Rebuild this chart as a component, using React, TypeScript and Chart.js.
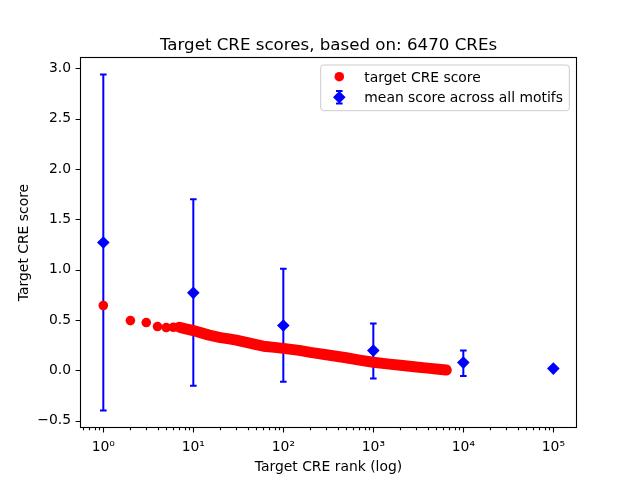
import { useEffect, useRef } from 'react';
import { Chart, registerables } from 'chart.js';

Chart.register(...registerables);

const TITLE = 'Target CRE scores, based on: 6470 CREs';
const X_LABEL = 'Target CRE rank (log)';
const Y_LABEL = 'Target CRE score';
const SCORE_LABEL = 'target CRE score';
const MEAN_LABEL = 'mean score across all motifs';

const ranks = [1, 2, 3, 4, 5, 6, 7, 8, 9, 10, 12, 15, 20, 25, 30, 40, 50, 60, 80, 100, 150, 200, 300, 500, 700, 1000, 1500, 2000, 3000, 4000, 5000, 6470];
const scores = [0.644, 0.494, 0.475, 0.435, 0.425, 0.428, 0.428, 0.415, 0.405, 0.395, 0.375, 0.35, 0.325, 0.312, 0.3, 0.275, 0.255, 0.24, 0.228, 0.218, 0.198, 0.178, 0.155, 0.125, 0.102, 0.08, 0.062, 0.05, 0.034, 0.022, 0.013, 0.004];

const meanRanks = [1, 10, 100, 1000, 10000, 100000];
const meanScores = [1.27, 0.77, 0.445, 0.196, 0.077, 0.017];
const errLow = [-0.4, -0.152, -0.113, -0.08, -0.057, 0.017];
const errHigh = [2.94, 1.7, 1.01, 0.465, 0.196, 0.017];

const xMajorTicks = [1, 10, 100, 1000, 10000, 100000];
const xMinorMultipliers = [2, 3, 4, 5, 6, 7, 8, 9];
const yTicks = [-0.5, 0, 0.5, 1, 1.5, 2, 2.5, 3];

const X_MIN = 0.565;
const X_MAX = 178600;
const Y_MIN = -0.563;
const Y_MAX = 3.103;

const RED = '#ff0000';
const BLUE = '#0000ff';
const FONT = 'DejaVu Sans';
const SUP: Record<string, string> = { '0': '⁰', '1': '¹', '2': '²', '3': '³', '4': '⁴', '5': '⁵', '6': '⁶', '7': '⁷', '8': '⁸', '9': '⁹' };

function supPow(v: number): string {
  const e = Math.round(Math.log10(v));
  return '10' + String(e).split('').map((c) => SUP[c] || c).join('');
}

function drawDiamond(ctx: CanvasRenderingContext2D, x: number, y: number, r: number) {
  ctx.beginPath();
  ctx.moveTo(x, y - r);
  ctx.lineTo(x + r, y);
  ctx.lineTo(x, y + r);
  ctx.lineTo(x - r, y);
  ctx.closePath();
  ctx.fill();
}

function drawErrorBar(ctx: CanvasRenderingContext2D, x: number, y1: number, y2: number, cap: number) {
  ctx.beginPath();
  ctx.moveTo(x, y1);
  ctx.lineTo(x, y2);
  ctx.moveTo(x - cap, y1);
  ctx.lineTo(x + cap, y1);
  ctx.moveTo(x - cap, y2);
  ctx.lineTo(x + cap, y2);
  ctx.stroke();
}

const decor = {
  id: 'decor',
  beforeDatasetsDraw(chart: any) {
    const ctx = chart.ctx as CanvasRenderingContext2D;
    const xs = chart.scales.x;
    const ys = chart.scales.y;
    ctx.save();
    ctx.strokeStyle = BLUE;
    ctx.lineWidth = 2;
    meanRanks.forEach((r, i) => {
      if (errHigh[i] - errLow[i] < 1e-6) return;
      const x = xs.getPixelForValue(r);
      drawErrorBar(ctx, x, ys.getPixelForValue(errHigh[i]), ys.getPixelForValue(errLow[i]), 3.3);
    });
    ctx.restore();
  },
  afterDraw(chart: any) {
    const ctx = chart.ctx as CanvasRenderingContext2D;
    const a = chart.chartArea;
    const xs = chart.scales.x;
    const ys = chart.scales.y;
    ctx.save();
    // frame
    ctx.strokeStyle = '#000';
    ctx.lineWidth = 1.1;
    ctx.strokeRect(a.left - 0.5, a.top - 0.5, a.right - a.left + 1, a.bottom - a.top + 1);
    // tick marks
    ctx.lineWidth = 1.1;
    ctx.beginPath();
    yTicks.forEach((v) => {
      const y = Math.round(ys.getPixelForValue(v)) + 0.5;
      ctx.moveTo(a.left - 0.5, y);
      ctx.lineTo(a.left - 5.4, y);
    });
    xMajorTicks.forEach((v) => {
      const x = Math.round(xs.getPixelForValue(v)) + 0.5;
      ctx.moveTo(x, a.bottom + 0.5);
      ctx.lineTo(x, a.bottom + 5.4);
    });
    const minors: number[] = [];
    [0.1, 1, 10, 100, 1000, 10000, 100000].forEach((d) => {
      xMinorMultipliers.forEach((m) => {
        const v = d * m;
        if (v >= X_MIN && v <= X_MAX) minors.push(v);
      });
    });
    minors.forEach((v) => {
      const x = Math.round(xs.getPixelForValue(v)) + 0.5;
      ctx.moveTo(x, a.bottom + 0.5);
      ctx.lineTo(x, a.bottom + 3.3);
    });
    ctx.stroke();

    // texts
    const cx = (a.left + a.right) / 2;
    ctx.fillStyle = '#000';
    ctx.textAlign = 'center';
    ctx.textBaseline = 'alphabetic';
    ctx.font = `16.67px "${FONT}"`;
    ctx.fillText(TITLE, cx, 50);
    ctx.font = `13.9px "${FONT}"`;
    ctx.fillText(X_LABEL, cx, 471);
    ctx.save();
    ctx.translate(28.4, (a.top + a.bottom) / 2);
    ctx.rotate(-Math.PI / 2);
    ctx.fillText(Y_LABEL, 0, 0);
    ctx.restore();

    // legend
    const lx = 320.7, ly = 65, lw = 248.6, lh = 45.7, rr = 3;
    ctx.beginPath();
    ctx.moveTo(lx + rr, ly);
    ctx.lineTo(lx + lw - rr, ly);
    ctx.quadraticCurveTo(lx + lw, ly, lx + lw, ly + rr);
    ctx.lineTo(lx + lw, ly + lh - rr);
    ctx.quadraticCurveTo(lx + lw, ly + lh, lx + lw - rr, ly + lh);
    ctx.lineTo(lx + rr, ly + lh);
    ctx.quadraticCurveTo(lx, ly + lh, lx, ly + lh - rr);
    ctx.lineTo(lx, ly + rr);
    ctx.quadraticCurveTo(lx, ly, lx + rr, ly);
    ctx.closePath();
    ctx.fillStyle = 'rgba(255,255,255,0.8)';
    ctx.fill();
    ctx.strokeStyle = '#cccccc';
    ctx.lineWidth = 1;
    ctx.stroke();

    ctx.fillStyle = RED;
    ctx.beginPath();
    ctx.arc(339.3, 76.7, 4.8, 0, Math.PI * 2);
    ctx.fill();

    ctx.fillStyle = BLUE;
    ctx.strokeStyle = BLUE;
    ctx.lineWidth = 2;
    drawErrorBar(ctx, 339.3, 91, 103.5, 3.3);
    drawDiamond(ctx, 339.3, 97.3, 6.3);

    ctx.fillStyle = '#000';
    ctx.textAlign = 'left';
    ctx.font = `13.9px "${FONT}"`;
    ctx.fillText(chart.data.datasets[0].label, 364.3, 81.5);
    ctx.fillText(chart.data.datasets[1].label, 364.3, 102.1);
    ctx.restore();
  },
};

export default function App() {
  const ref = useRef<HTMLCanvasElement | null>(null);

  useEffect(() => {
    document.body.style.margin = '0';
    document.body.style.overflow = 'hidden';
    const canvas = ref.current;
    if (!canvas) return;
    const chart = new Chart(canvas, {
      type: 'scatter',
      data: {
        datasets: [
          {
            label: SCORE_LABEL,
            data: ranks.map((r, i) => ({ x: r, y: scores[i] })),
            showLine: true,
            borderColor: RED,
            backgroundColor: RED,
            borderWidth: 11,
            borderCapStyle: 'round',
            borderJoinStyle: 'round',
            pointRadius: 4.8,
            pointBorderWidth: 0,
            pointBackgroundColor: RED,
            segment: {
              borderColor: (c: any) => (c.p0.parsed.x >= 7 ? RED : 'rgba(0,0,0,0)'),
            },
            order: 2,
          } as any,
          {
            label: MEAN_LABEL,
            data: meanRanks.map((r, i) => ({ x: r, y: meanScores[i] })),
            showLine: false,
            pointStyle: 'rectRot',
            pointRadius: 6.3,
            pointBorderWidth: 0,
            pointBackgroundColor: BLUE,
            backgroundColor: BLUE,
            borderColor: BLUE,
            order: 1,
          } as any,
        ],
      },
      options: {
        animation: false,
        responsive: false,
        events: [],
        layout: { padding: { left: 0, top: 58, right: 64, bottom: 0 } },
        plugins: {
          legend: { display: false },
          title: { display: false },
          tooltip: { enabled: false },
        },
        scales: {
          x: {
            type: 'logarithmic',
            min: X_MIN,
            max: X_MAX,
            grid: { display: false, drawTicks: false },
            border: { display: false },
            afterBuildTicks: (s: any) => {
              s.ticks = xMajorTicks.map((v) => ({ value: v }));
            },
            afterFit: (s: any) => {
              s.height = 53;
            },
            ticks: {
              autoSkip: false,
              maxRotation: 0,
              padding: 12,
              color: '#000',
              font: { family: FONT, size: 13.9 },
              callback: (v: any) => supPow(Number(v)),
            },
          },
          y: {
            type: 'linear',
            min: Y_MIN,
            max: Y_MAX,
            grid: { display: false, drawTicks: false },
            border: { display: false },
            afterBuildTicks: (s: any) => {
              s.ticks = yTicks.map((v) => ({ value: v }));
            },
            afterFit: (s: any) => {
              s.width = 81;
            },
            ticks: {
              autoSkip: false,
              padding: 10,
              color: '#000',
              font: { family: FONT, size: 13.9 },
              callback: (v: any) => {
                const n = Number(v);
                return n < 0 ? '\u2212' + Math.abs(n).toFixed(1) : n.toFixed(1);
              },
            },
          },
        },
      },
      plugins: [decor],
    });
    return () => chart.destroy();
  }, []);

  return (
    <div style={{ width: 640, height: 480, background: '#fff' }}>
      <canvas ref={ref} width={640} height={480} style={{ display: 'block' }} />
    </div>
  );
}
